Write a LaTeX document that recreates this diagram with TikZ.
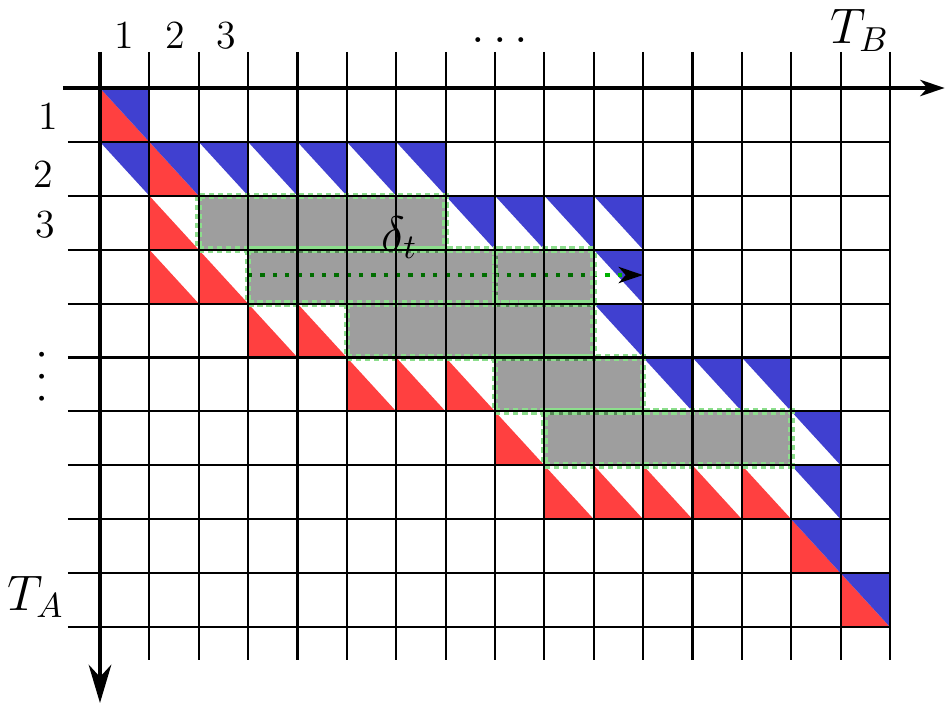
\documentclass[tikz,border=0pt]{standalone}
\usepackage{amsmath}
\usetikzlibrary{arrows.meta}
\definecolor{cellred}{RGB}{255,64,64}
\definecolor{cellblue}{RGB}{64,64,208}
\definecolor{winedge}{RGB}{140,222,140}
\definecolor{shiftgreen}{RGB}{0,176,0}

\tikzset{
    redhalf/.style={fill=cellred},
    bluehalf/.style={fill=cellblue},
    window/.style={fill=black, fill opacity=0.38, draw=winedge, line width=1.9pt, dash pattern=on 1.5pt off 1.1pt},
    gridline/.style={line width=0.6pt},
    axisline/.style={line width=1.2pt},
    numlabel/.style={font=\fontsize{11.5}{14}\selectfont},
    biglabel/.style={font=\fontsize{14.5}{17}\selectfont}
}

\begin{document}
\begin{tikzpicture}[x=0.5cm, y=-0.5458cm]
    \useasboundingbox (-2.025,-1.633) rectangle (17.155,11.466);

    \foreach \c/\r in {1/1, 2/2, 2/3, 2/4, 3/4, 4/5, 5/5, 6/6, 7/6, 8/6, 9/7, 10/8, 11/8, 12/8, 13/8, 14/8, 15/9, 16/10}
        \fill[redhalf] (\c-1,\r-1) -- (\c-1,\r) -- (\c,\r) -- cycle;
    \foreach \c/\r in {1/1, 1/2, 2/2, 3/2, 4/2, 5/2, 6/2, 7/2, 8/3, 9/3, 10/3, 11/3, 11/4, 11/5, 12/6, 13/6, 14/6, 15/7, 15/8, 15/9, 16/10}
        \fill[bluehalf] (\c-1,\r-1) -- (\c,\r-1) -- (\c,\r) -- cycle;

    \coordinate (shiftstart) at (3,3.47);
    \coordinate (shiftend) at (11,3.47);
    \draw[shiftgreen, line width=1.25pt, dash pattern=on 1.25pt off 2.3pt, -{Stealth[black, length=7pt, width=4.6pt, inset=2pt]}] (shiftstart) -- (shiftend);

    \foreach \xa/\xb/\r in {2/7/3, 3/8/4, 8/10/4, 5/10/5, 8/11/6, 9/14/7}
        \draw[window] (\xa,\r-1) rectangle (\xb,\r);

    \foreach \c in {1,...,16}
        \draw[gridline] (\c,-0.67) -- (\c,10.61);
    \foreach \r in {1,...,10}
        \draw[gridline] (-0.65,\r) -- (16,\r);

    \coordinate (tbstart) at (-0.75,0);
    \coordinate (tbend) at (17.11,0);
    \coordinate (tastart) at (0,-0.67);
    \coordinate (taend) at (0,11.41);
    \draw[axisline, -{Stealth[length=7pt, width=4.6pt, inset=2pt]}] (tbstart) -- (tbend);
    \draw[axisline, -{Stealth[length=11pt, width=6.5pt, inset=3.5pt]}] (tastart) -- (taend);

    \node[numlabel] (colone) at (0.5,-0.98) {1};
    \node[numlabel] (coltwo) at (1.52,-0.98) {2};
    \node[numlabel] (colthree) at (2.55,-0.98) {3};
    \node[biglabel] (coldots) at (8.1,-0.89) {$\ldots$};
    \node[biglabel] (tb) at (15.39,-1.067) {$T_B$};

    \node[numlabel] (rowone) at (-1.05,0.53) {1};
    \node[numlabel] (rowtwo) at (-1.15,1.6) {2};
    \node[numlabel] (rowthree) at (-1.11,2.54) {3};
    \node[rotate=90, font=\fontsize{15.7}{18}\selectfont] (rowdots) at (-1.17,5.36) {$\ldots$};
    \node[biglabel] (ta) at (-1.296,9.44) {$T_A$};

    \node[biglabel] (delta) at (6.07,2.78) {$\delta_t$};
\end{tikzpicture}
\end{document}
